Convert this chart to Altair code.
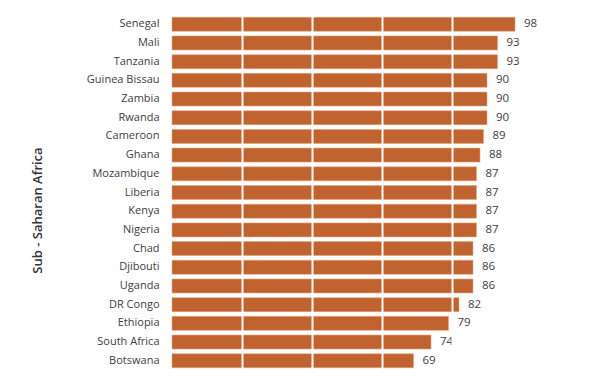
import altair as alt
import pandas as pd

countries = ["Senegal", "Mali", "Tanzania", "Guinea Bissau", "Zambia", "Rwanda",
             "Cameroon", "Ghana", "Mozambique", "Liberia", "Kenya", "Nigeria",
             "Chad", "Djibouti", "Uganda", "DR Congo", "Ethiopia", "South Africa",
             "Botswana"]
values = [98, 93, 93, 90, 90, 90, 89, 88, 87, 87, 87, 87, 86, 86, 86, 82, 79, 74, 69]
grid_values = [20, 40, 60, 80]

df = pd.DataFrame({"country": countries, "value": values})

BAR = "#c1632f"
FONT = "Open Sans"

y = alt.Y("country:N", sort=countries,
          scale=alt.Scale(paddingInner=0.25, paddingOuter=0.12),
          axis=alt.Axis(title="Sub - Saharan Africa", ticks=False, domain=False,
                        labelPadding=13, labelFontSize=11, labelFont=FONT,
                        labelColor="#404040", titleFont=FONT, titleFontSize=13,
                        titleFontWeight=600, titleColor="#333333",
                        titleX=-135, titleY=195, titleAngle=270,
                        titleAlign="center", titleBaseline="middle"))

x = alt.X("value:Q", scale=alt.Scale(domain=[0, 100]),
          axis=alt.Axis(title=None, labels=False, ticks=False, domain=False,
                        values=grid_values, grid=True, gridColor="white",
                        gridWidth=2, zindex=1))

bars = alt.Chart(df).mark_bar(color=BAR, stroke="#e4a47f", strokeWidth=0.6).encode(x=x, y=y)

text = alt.Chart(df).mark_text(align="left", baseline="middle", dx=9,
                               fontSize=11.5, font=FONT, color="#404040").encode(
    x=alt.X("value:Q"), y=alt.Y("country:N", sort=countries), text="value:Q")

chart = alt.layer(bars, text).properties(
    width=350, height=355,
    autosize=alt.AutoSizeParams(type="none"),
    padding={"left": 164, "top": 7, "right": 64, "bottom": 5},
).configure_view(stroke=None)

chart.save("out.html", embed_options={"renderer": "svg", "actions": False})
